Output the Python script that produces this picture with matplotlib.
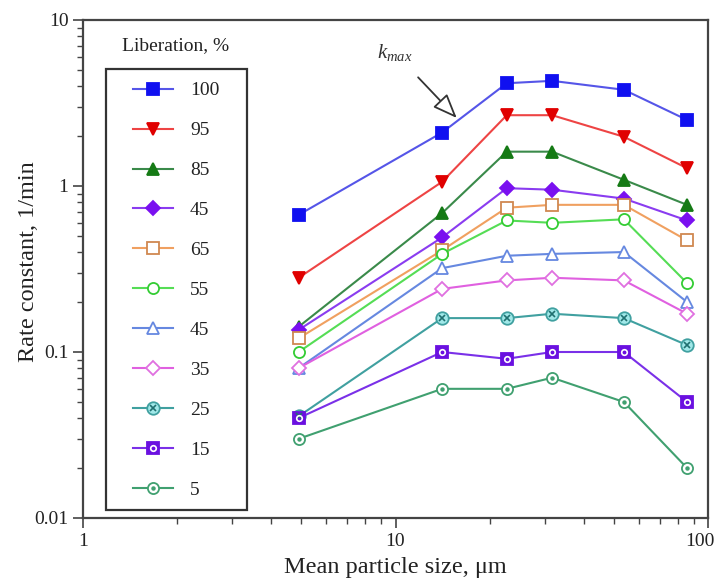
import matplotlib
matplotlib.use("Agg")
import matplotlib.pyplot as plt
import matplotlib.transforms as mtransforms
from matplotlib.legend_handler import HandlerTuple
from matplotlib.patches import Rectangle

plt.rcParams['font.family'] = ['Liberation Serif', 'DejaVu Serif']
plt.rcParams['mathtext.fontset'] = 'custom'
plt.rcParams['mathtext.it'] = 'Liberation Serif:italic'
plt.rcParams['mathtext.rm'] = 'Liberation Serif'

sizes = [4.9, 14.1, 22.7, 31.7, 53.8, 85.7]
labels = ["100", "95", "85", "45", "65", "55", "45", "35", "25", "15", "5"]
k100 = [0.67, 2.1, 4.16, 4.3, 3.8, 2.5]
k95 = [0.28, 1.06, 2.67, 2.67, 1.98, 1.28]
k85 = [0.142, 0.687, 1.61, 1.61, 1.09, 0.77]
k45a = [0.136, 0.49, 0.97, 0.95, 0.84, 0.62]
k65 = [0.121, 0.41, 0.74, 0.77, 0.77, 0.47]
k55 = [0.100, 0.39, 0.62, 0.60, 0.63, 0.26]
k45b = [0.080, 0.32, 0.38, 0.39, 0.40, 0.20]
k35 = [0.080, 0.24, 0.27, 0.28, 0.27, 0.17]
k25 = [0.041, 0.16, 0.16, 0.17, 0.16, 0.11]
k15 = [0.040, 0.10, 0.091, 0.10, 0.10, 0.050]
k5 = [0.030, 0.060, 0.060, 0.070, 0.050, 0.020]
series = [k100, k95, k85, k45a, k65, k55, k45b, k35, k25, k15, k5]

# style: (line color, marker, marker face, marker edge, overlay marker spec)
styles = [
    ("#5555e8", "s", "#1010f0", "#1010f0", None),
    ("#ee4444", "v", "#e00000", "#e00000", None),
    ("#3a8a4a", "^", "#157a15", "#157a15", None),
    ("#8a3cf0", "D", "#7a10f0", "#7a10f0", None),
    ("#f0a060", "s", "white", "#d08850", None),
    ("#55dd55", "o", "white", "#33cc33", None),
    ("#6688e0", "^", "white", "#6688e0", None),
    ("#e060e0", "D", "white", "#e070e0", None),
    ("#40a0a0", "o", "#a0e8e8", "#40a0a0", ("x", "#207070", 5)),
    ("#7a30e8", "s", "#6a10e0", "#6a10e0", ("o", "white", 4)),
    ("#40a070", "o", "white", "#40a070", (".", "#40a070", 4)),
]
msizes = [9, 9, 9, 7, 9, 8, 9, 7, 9, 9, 8]

fig = plt.figure(figsize=(7.18, 5.79), dpi=100)
ax = fig.add_axes([83/718, 61/579, 625/718, 498/579])
ax.set_xscale('log')
ax.set_yscale('log')
ax.set_xlim(1, 100)
ax.set_ylim(0.01, 10)

handles = []
for i, (ys, st) in enumerate(zip(series, styles)):
    lc, mk, mf, me, ov = st
    ms = msizes[i]
    l, = ax.plot(sizes, ys, color=lc, lw=1.5, marker=mk, markersize=ms,
                 markerfacecolor=mf, markeredgecolor=me, markeredgewidth=1.3,
                 zorder=3)
    if ov is not None:
        om, oc, osz = ov
        o, = ax.plot(sizes, ys, ls='none', marker=om, markersize=osz,
                     markerfacecolor='none' if om == 'o' else oc,
                     markeredgecolor=oc, markeredgewidth=1.2, zorder=4)
        handles.append((l, o))
    else:
        handles.append(l)

# legend (frameless) plus a hand-placed frame
leg = ax.legend(handles, labels, loc='upper left',
                bbox_to_anchor=(0.08, 0.876), fontsize=14,
                handler_map={tuple: HandlerTuple(ndivide=1)},
                numpoints=1, handlelength=2.06, handletextpad=0.87,
                labelspacing=1.15, borderpad=0, borderaxespad=0,
                frameon=False)
for t in leg.get_texts():
    t.set_color('#222222')
ax.add_patch(Rectangle((0.0368, 0.016), 0.2256, 0.8856, transform=ax.transAxes,
                       fill=True, facecolor='white', edgecolor='#333333',
                       lw=1.6, zorder=4.5))
leg.set_zorder(5)
ax.text(0.148, 0.949, "Liberation, %", transform=ax.transAxes,
        ha='center', va='center', fontsize=14, color='#222222')

ax.annotate(r'$k_{max}$', xy=(15.7, 2.57), xytext=(9.96, 6.33),
            fontsize=15, ha='center', va='center', color='#333333',
            arrowprops=dict(arrowstyle='-|>,head_length=1.0,head_width=0.4',
                            facecolor='white', edgecolor='#333333', lw=1.3,
                            shrinkA=11, shrinkB=0))

for s in ax.spines.values():
    s.set_linewidth(1.6)
    s.set_color('#444444')
ax.tick_params(which='both', direction='out', colors='#444444',
               labelcolor='#222222', labelsize=14)
ax.tick_params(which='major', length=7, width=1.2)
ax.tick_params(which='minor', length=4, width=1.0)
ax.set_xticks([1, 10, 100])
ax.set_xticklabels(['1', '10', '100'])
ax.set_yticks([0.01, 0.1, 1, 10])
ax.set_yticklabels(['0.01', '0.1', '1', '10'])
# nudge the last x tick label left so it stays inside the figure
last = ax.get_xticklabels()[-1]
last.set_transform(last.get_transform() +
                   mtransforms.ScaledTranslation(-6/72, 0, fig.dpi_scale_trans))
ax.set_xlabel('Mean particle size, μm', fontsize=17.5, color='#222222', labelpad=5)
ax.set_ylabel('Rate constant, 1/min', fontsize=17.5, color='#222222')
ax.yaxis.set_label_coords(-0.070, 0.514)

fig.savefig('out.png', dpi=100)
